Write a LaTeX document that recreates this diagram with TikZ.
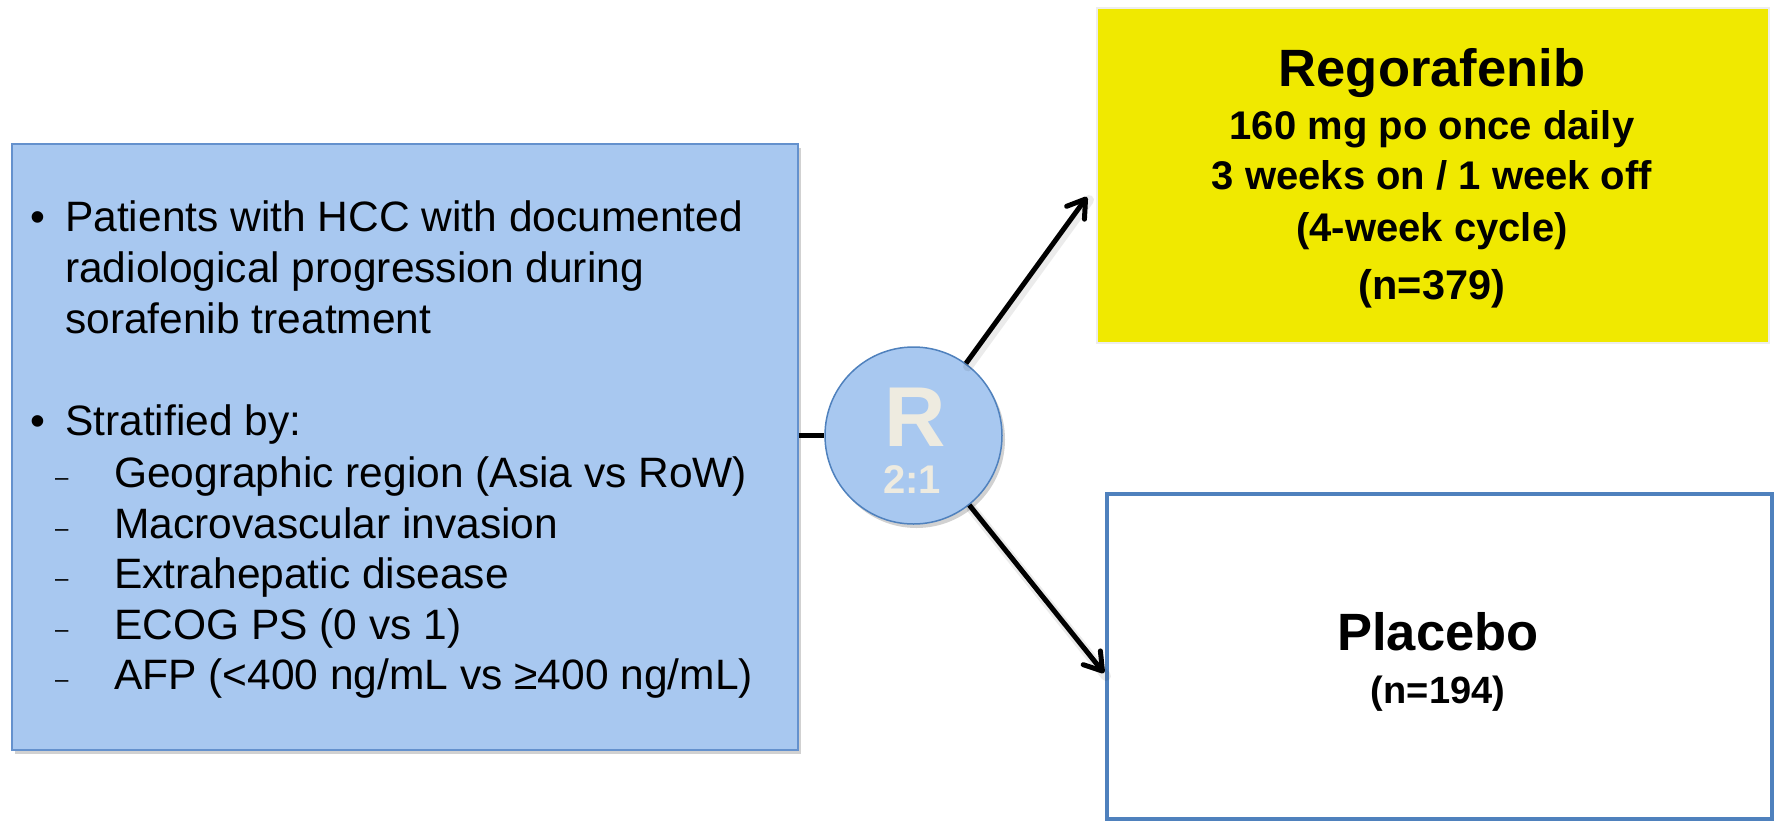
\documentclass[tikz,border=0pt]{standalone}
\usepackage{fontspec}
\setmainfont{Liberation Sans}
\usetikzlibrary{arrows.meta,shadows}

\definecolor{boxblue}{RGB}{168,200,240}
\definecolor{boxedge}{RGB}{100,145,205}
\definecolor{edgeblue}{RGB}{79,129,189}
\definecolor{armyellow}{RGB}{240,233,0}
\definecolor{ltext}{RGB}{238,235,224}

% font size helper: size in pt (1 pt = 1 unit of the picture)
\newcommand\setfsz[1]{\fontsize{#1}{#1}\selectfont}

\begin{document}
\begin{tikzpicture}[x=1pt,y=-1pt,
  shade/.style={drop shadow={shadow xshift=3pt,shadow yshift=-4pt,opacity=0.3,fill=black!60}},
  popbox/.style={draw=boxedge,line width=1.5pt,fill=boxblue,shade,
    anchor=north west,inner sep=0pt},
  armbox/.style={fill=armyellow,draw=black!7,line width=2pt,anchor=north west,inner sep=0pt},
  placbox/.style={fill=white,draw=edgeblue,line width=4pt,anchor=north west,inner sep=0pt},
  randc/.style={circle,draw=edgeblue,line width=1.5pt,fill=boxblue,shade,
    minimum size=177pt,inner sep=0pt},
  txt/.style={inner sep=0pt,anchor=base west,font=\setfsz{42.5}},
  bul/.style={inner sep=0pt,anchor=base west,font=\setfsz{42.5}},
  dsh/.style={inner sep=0pt,anchor=base west,font=\setfsz{24},yshift=2pt},
  ctr/.style={inner sep=0pt,anchor=base,font=\bfseries\setfsz{40}},
  big/.style={inner sep=0pt,anchor=base,font=\bfseries\setfsz{52.5}},
  conn/.style={line width=5pt,black},
  arr/.style={line width=5pt,black,-{Straight Barb[length=17pt,width=22pt,line width=5pt,round]}},
  arrshade/.style={line width=10pt,black,opacity=0.08,line cap=round}]

\useasboundingbox (0,0) rectangle (1775,820);

% population box
\node[popbox,minimum width=786pt,minimum height=606pt] (pop) at (11,143) {};

\node[bul] (b1) at (30,231.5) {•};
\node[txt] (l1) at (65,231.5) {Patients with HCC with documented};
\node[txt] (l2) at (65,282.3) {radiological progression during};
\node[txt] (l3) at (65,333.1) {sorafenib treatment};

\node[bul] (b2) at (30,435.5) {•};
\node[txt] (l4) at (65,435.5) {Stratified by:};

\node[dsh] (d1) at (55,487.5) {–};
\node[txt] (s1) at (114,487.5) {Geographic region (Asia vs RoW)};
\node[dsh] (d2) at (55,538.1) {–};
\node[txt] (s2) at (114,538.1) {Macrovascular invasion};
\node[dsh] (d3) at (55,588.7) {–};
\node[txt] (s3) at (114,588.7) {Extrahepatic disease};
\node[dsh] (d4) at (55,639.3) {–};
\node[txt] (s4) at (114,639.3) {ECOG PS (0 vs 1)};
\node[dsh] (d5) at (55,689.9) {–};
\node[txt] (s5) at (114,689.9) {AFP (<400 ng/mL vs ≥400 ng/mL)};

% treatment arms
\node[armbox,minimum width=672pt,minimum height=335pt] (rego) at (1096,7) {};
\node[big] (r1) at (1432,86) {Regorafenib};
\node[ctr] (r2) at (1432,139) {160 mg po once daily};
\node[ctr] (r3) at (1432,189) {3 weeks on / 1 week off};
\node[ctr] (r4) at (1432,241) {(4-week cycle)};
\node[ctr,font=\bfseries\setfsz{41.5}] (r5) at (1432,299) {(n=379)};

\node[placbox,minimum width=665pt,minimum height=325pt] (plac) at (1105,492) {};
\node[big] (p1) at (1438,650) {Placebo};
\node[ctr,font=\bfseries\setfsz{38}] (p2) at (1438,703) {(n=194)};

% randomisation
\node[randc] (R) at (913.5,435.5) {};
\node[inner sep=0pt,anchor=base,text=ltext,font=\bfseries\setfsz{85}] (Rl) at (915,446) {R};
\node[inner sep=0pt,anchor=base,text=ltext,font=\bfseries\setfsz{40}] (ratio) at (912,493) {2:1};

% connectors (with a faint shadow under the arrows)
\coordinate (t1) at (1087,197);
\coordinate (t2) at (1104,673);
\draw[arrshade,transform canvas={xshift=2pt,yshift=-3pt}] (R) -- (t1);
\draw[arrshade,transform canvas={xshift=2pt,yshift=-3pt}] (R) -- (t2);
\draw[conn] (pop.east |- R) -- (R.west);
\draw[arr] (R) -- (t1);
\draw[arr] (R) -- (t2);
\end{tikzpicture}
\end{document}
